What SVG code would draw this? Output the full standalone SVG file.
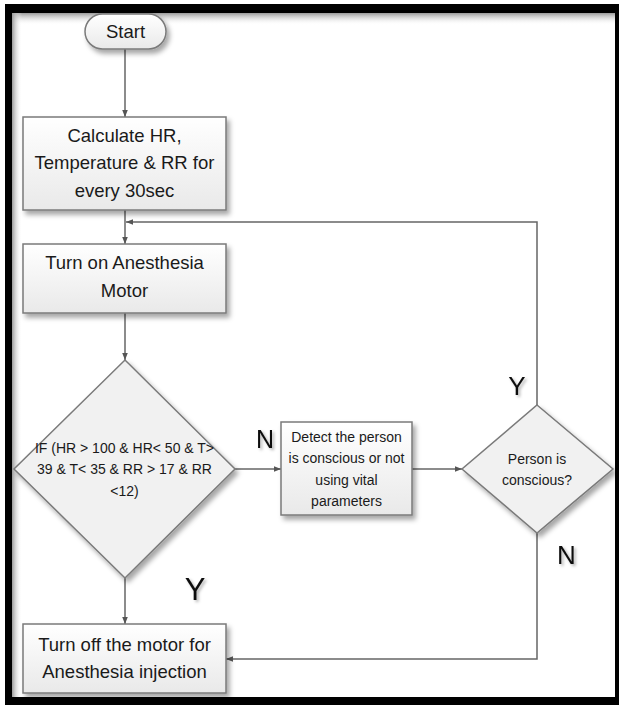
<svg xmlns="http://www.w3.org/2000/svg" width="619" height="705" viewBox="0 0 619 705">
  <defs>
    <linearGradient id="boxFill" x1="0" y1="0" x2="0" y2="1">
      <stop offset="0" stop-color="#ffffff"/>
      <stop offset="1" stop-color="#e9e9e9"/>
    </linearGradient>
    <linearGradient id="topShade" x1="0" y1="0" x2="0" y2="1">
      <stop offset="0" stop-color="#9a9a9a"/>
      <stop offset="1" stop-color="#ffffff" stop-opacity="0"/>
    </linearGradient>
    <linearGradient id="leftShade" x1="0" y1="0" x2="1" y2="0">
      <stop offset="0" stop-color="#9a9a9a"/>
      <stop offset="1" stop-color="#ffffff" stop-opacity="0"/>
    </linearGradient>
    <filter id="shadow" x="-20%" y="-20%" width="150%" height="150%">
      <feDropShadow dx="3" dy="4" stdDeviation="2.5" flood-color="#000" flood-opacity="0.35"/>
    </filter>
    <filter id="tshadow" x="-30%" y="-30%" width="180%" height="180%">
      <feDropShadow dx="2" dy="2" stdDeviation="1.5" flood-color="#000" flood-opacity="0.3"/>
    </filter>
    <marker id="arrow" viewBox="0 0 10 10" refX="10" refY="5" markerWidth="7" markerHeight="7" orient="auto-start-reverse" markerUnits="userSpaceOnUse">
      <path d="M0,1 L10,5 L0,9 Z" fill="#555"/>
    </marker>
    <style>
      .box { fill: url(#boxFill); stroke: #7a7a7a; stroke-width: 1.5; filter: url(#shadow); }
      .dia { fill: #f1f1f1; stroke: #7a7a7a; stroke-width: 1.5; filter: url(#shadow); }
      .t18 { font-family: "Liberation Sans", Arial, sans-serif; font-size: 18.5px; fill: #1a1a1a; text-anchor: middle; }
      .t14 { font-family: "Liberation Sans", Arial, sans-serif; font-size: 14px; fill: #1a1a1a; text-anchor: middle; }
      .lbl { font-family: "Liberation Sans", Arial, sans-serif; fill: #111; text-anchor: middle; filter: url(#tshadow); }
      .con { fill: none; stroke: #666; stroke-width: 1.5; }
    </style>
  </defs>

  <!-- frame -->
  <g id="frame">
    <rect x="5" y="4" width="614" height="701" fill="#000"/>
    <rect x="12" y="13" width="603" height="684" fill="#fff"/>
    <rect x="12" y="13" width="603" height="12" fill="url(#topShade)"/>
    <rect x="12" y="13" width="10" height="684" fill="url(#leftShade)"/>
  </g>

  <!-- connectors -->
  <g id="connectors">
    <line class="con" x1="125" y1="49" x2="125" y2="117" marker-end="url(#arrow)"/>
    <line class="con" x1="125" y1="210" x2="125" y2="244" marker-end="url(#arrow)"/>
    <line class="con" x1="125" y1="313" x2="125" y2="360" marker-end="url(#arrow)"/>
    <line class="con" x1="235" y1="469" x2="281" y2="469" marker-end="url(#arrow)"/>
    <line class="con" x1="412" y1="469" x2="462" y2="469" marker-end="url(#arrow)"/>
    <polyline class="con" points="537,405 537,222 126,222" marker-end="url(#arrow)"/>
    <polyline class="con" points="537,533 537,659 226,659" marker-end="url(#arrow)"/>
    <line class="con" x1="125" y1="578" x2="125" y2="624" marker-end="url(#arrow)"/>
  </g>

  <g id="start">
    <rect class="box" x="85" y="14" width="81" height="35" rx="17.5" ry="17.5"/>
    <text class="t18" x="125.5" y="38">Start</text>
  </g>

  <g id="calculate">
    <rect class="box" x="23" y="117" width="203" height="93"/>
    <text class="t18" x="124.5" y="142">Calculate HR,</text>
    <text class="t18" x="124.5" y="169">Temperature &amp; RR for</text>
    <text class="t18" x="124.5" y="197">every 30sec</text>
  </g>

  <g id="turn-on">
    <rect class="box" x="23" y="244" width="203" height="69"/>
    <text class="t18" x="124.5" y="269">Turn on Anesthesia</text>
    <text class="t18" x="124.5" y="297">Motor</text>
  </g>

  <g id="condition">
    <polygon class="dia" points="125,360 235,469 125,578 14,469"/>
    <text class="t14" x="124.5" y="453">IF (HR &gt; 100 &amp; HR&lt; 50 &amp; T&gt;</text>
    <text class="t14" x="124.5" y="474">39 &amp; T&lt; 35 &amp; RR &gt; 17 &amp; RR</text>
    <text class="t14" x="124.5" y="496">&lt;12)</text>
  </g>

  <g id="detect">
    <rect class="box" x="281" y="422" width="131" height="93"/>
    <text class="t14" x="346.5" y="442">Detect the person</text>
    <text class="t14" x="346.5" y="463">is conscious or not</text>
    <text class="t14" x="346.5" y="485">using vital</text>
    <text class="t14" x="346.5" y="506">parameters</text>
  </g>

  <g id="conscious">
    <polygon class="dia" points="537,405 613,469 537,533 462,469"/>
    <text class="t14" x="537" y="464">Person is</text>
    <text class="t14" x="537" y="485">conscious?</text>
  </g>

  <g id="turn-off">
    <rect class="box" x="23" y="624" width="203" height="69"/>
    <text class="t18" x="124.5" y="651">Turn off the motor for</text>
    <text class="t18" x="124.5" y="678">Anesthesia injection</text>
  </g>

  <g id="labels">
    <text class="lbl" x="265" y="448" font-size="25">N</text>
    <text class="lbl" x="195" y="600" font-size="31">Y</text>
    <text class="lbl" x="517" y="395" font-size="26">Y</text>
    <text class="lbl" x="566.5" y="564" font-size="26">N</text>
  </g>
</svg>
